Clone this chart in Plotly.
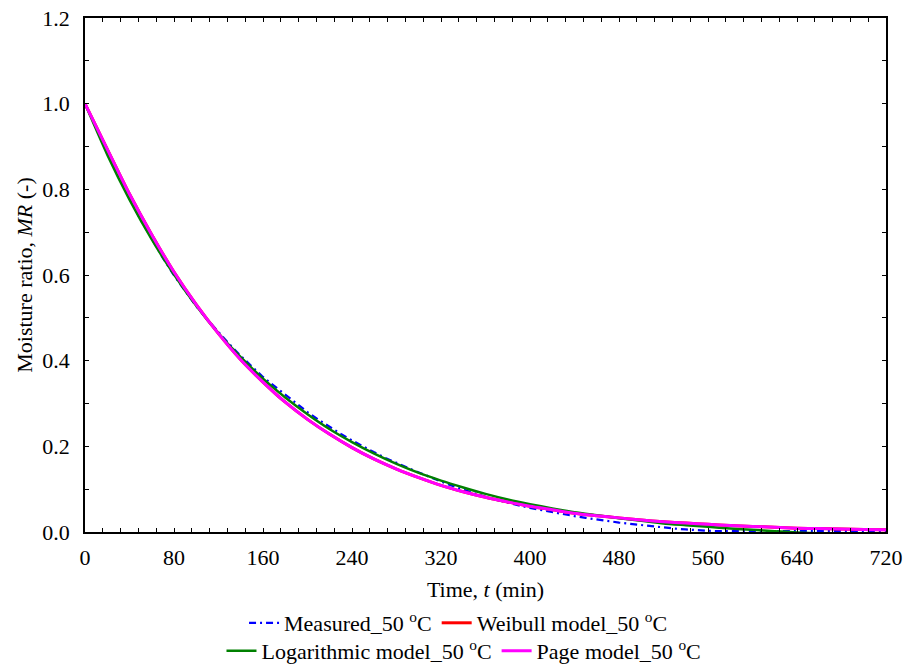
import plotly.graph_objects as go

# ---- data ----
t_meas = [0, 10, 20, 30, 40, 50, 60, 70, 80, 90, 100, 110, 120, 130, 140, 150, 160, 170, 180, 190,
          200, 210, 220, 230, 240, 250, 260, 270, 280, 290, 300, 310, 320, 330, 340, 350, 360, 370,
          380, 390, 400, 410, 420, 430, 440, 450, 460, 470, 480, 490, 500, 510, 520, 530, 540, 550,
          560, 570, 580, 590, 600, 610, 620, 630, 640, 650, 660, 670, 680, 690, 700, 710, 720]
mr_meas = [1.000, 0.945, 0.890, 0.834, 0.779, 0.729, 0.683, 0.640, 0.599, 0.562, 0.527, 0.496,
           0.466, 0.438, 0.411, 0.386, 0.362, 0.341, 0.320, 0.299, 0.280, 0.262, 0.245, 0.229,
           0.214, 0.199, 0.186, 0.173, 0.161, 0.150, 0.139, 0.128, 0.118, 0.108, 0.099, 0.090,
           0.082, 0.075, 0.068, 0.062, 0.056, 0.051, 0.046, 0.042, 0.037, 0.033, 0.029, 0.025,
           0.022, 0.019, 0.016, 0.013, 0.011, 0.008, 0.006, 0.004, 0.003, 0.002, 0.002, 0.002,
           0.002, 0.002, 0.002, 0.002, 0.002, 0.002, 0.002, 0.002, 0.002, 0.002, 0.002, 0.002, 0.002]

t_model = [0, 20, 40, 60, 80, 100, 120, 140, 160, 180, 200, 220, 240, 260, 280, 300, 320, 340,
           360, 380, 400, 420, 440, 460, 480, 500, 520, 540, 560, 580, 600, 620, 640, 660, 680,
           700, 720]
mr_weibull = [1.000, 0.894, 0.789, 0.694, 0.607, 0.531, 0.463, 0.402, 0.350, 0.303, 0.263, 0.228,
              0.197, 0.170, 0.147, 0.127, 0.109, 0.094, 0.081, 0.070, 0.060, 0.052, 0.044, 0.038,
              0.033, 0.028, 0.024, 0.021, 0.018, 0.015, 0.013, 0.011, 0.009, 0.008, 0.007, 0.006,
              0.005]
mr_log = [1.000, 0.881, 0.776, 0.683, 0.601, 0.528, 0.464, 0.408, 0.358, 0.314, 0.275, 0.240,
          0.210, 0.183, 0.159, 0.138, 0.120, 0.104, 0.089, 0.076, 0.065, 0.055, 0.046, 0.039,
          0.032, 0.026, 0.020, 0.016, 0.012, 0.008, 0.005, 0.002, -0.001, -0.003, -0.005,
          -0.007, -0.008]
mr_page = [1.000, 0.894, 0.789, 0.694, 0.607, 0.531, 0.463, 0.402, 0.350, 0.303, 0.263, 0.228,
           0.197, 0.170, 0.147, 0.127, 0.109, 0.094, 0.081, 0.070, 0.060, 0.052, 0.044, 0.038,
           0.033, 0.028, 0.024, 0.021, 0.018, 0.015, 0.013, 0.011, 0.009, 0.008, 0.007, 0.006,
           0.005]

x_ticks = [0, 80, 160, 240, 320, 400, 480, 560, 640, 720]
y_ticks = [0.0, 0.2, 0.4, 0.6, 0.8, 1.0, 1.2]

FONT = "Liberation Serif"
FS = 22

fig = go.Figure()
fig.add_trace(go.Scatter(x=t_meas, y=mr_meas, mode="lines", name="Measured_50 <sup>o</sup>C",
                         line=dict(color="#0000FF", width=2.2, dash="7px,4px,2px,4px"),
                         legend="legend"))
fig.add_trace(go.Scatter(x=t_model, y=mr_weibull, mode="lines", name="Weibull model_50 <sup>o</sup>C",
                         line=dict(color="#FF0000", width=3, shape="spline", smoothing=0.6),
                         legend="legend"))
fig.add_trace(go.Scatter(x=t_model, y=mr_log, mode="lines", name="Logarithmic model_50 <sup>o</sup>C",
                         line=dict(color="#008000", width=2.5, shape="spline", smoothing=0.6),
                         legend="legend2"))
fig.add_trace(go.Scatter(x=t_model, y=mr_page, mode="lines", name="Page model_50 <sup>o</sup>C",
                         line=dict(color="#FF00FF", width=3, shape="spline", smoothing=0.6),
                         legend="legend2"))

axis_common = dict(
    showline=True, linecolor="black", linewidth=1.5, mirror="ticks",
    ticks="inside", ticklen=4, tickwidth=1, tickcolor="black",
    showgrid=False, zeroline=False, automargin=False,
    tickfont=dict(family=FONT, size=FS, color="black"),
)

fig.update_layout(
    width=908, height=671,
    margin=dict(l=85, r=22, t=18, b=139),
    paper_bgcolor="white", plot_bgcolor="white",
    font=dict(family=FONT, size=FS, color="black"),
    xaxis=dict(range=[0, 720], tickvals=x_ticks, ticktext=[str(v) for v in x_ticks],
               minor=dict(ticks="inside", ticklen=4, dtick=16, tickcolor="black", showgrid=False),
               title=dict(text="Time, <i>t</i> (min)", font=dict(family=FONT, size=FS), standoff=12),
               ticklabelstandoff=5,
               **axis_common),
    yaxis=dict(range=[0, 1.2], tickvals=y_ticks, ticktext=[f"{v:.1f}" for v in y_ticks],
               minor=dict(ticks="inside", ticklen=4, dtick=0.1, tickcolor="black", showgrid=False),
               title=dict(text="Moisture ratio, <i>MR</i> (-)", font=dict(family=FONT, size=FS), standoff=4),
               ticklabelstandoff=9,
               **axis_common),
    legend=dict(orientation="h", xref="container", yref="container",
                x=0.505, xanchor="center", y=1 - 623 / 671, yanchor="middle",
                font=dict(family=FONT, size=FS), bgcolor="rgba(0,0,0,0)", itemwidth=30,
                tracegroupgap=0),
    legend2=dict(orientation="h", xref="container", yref="container",
                 x=0.511, xanchor="center", y=1 - 651 / 671, yanchor="middle",
                 font=dict(family=FONT, size=FS), bgcolor="rgba(0,0,0,0)", itemwidth=30,
                 tracegroupgap=0),
    showlegend=True,
)

fig.write_html("out.html")
